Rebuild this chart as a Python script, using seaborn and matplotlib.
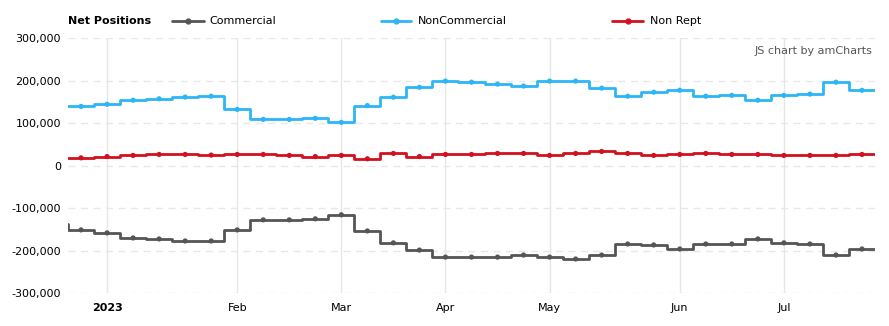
import numpy as np
import pandas as pd
import matplotlib
matplotlib.use("Agg")
import matplotlib.pyplot as plt
from matplotlib.lines import Line2D
import seaborn as sns

# ---- data (weekly, Dec 20 2022 .. Jul 25 2023; Dec 20 is only partly visible) ----
dates = ["2022-12-20", "2022-12-27", "2023-01-03", "2023-01-10", "2023-01-17", "2023-01-24",
         "2023-01-31", "2023-02-07", "2023-02-14", "2023-02-21", "2023-02-28",
         "2023-03-07", "2023-03-14", "2023-03-21", "2023-03-28", "2023-04-04",
         "2023-04-11", "2023-04-18", "2023-04-25", "2023-05-02", "2023-05-09",
         "2023-05-16", "2023-05-23", "2023-05-30", "2023-06-06", "2023-06-13",
         "2023-06-20", "2023-06-27", "2023-07-04", "2023-07-11", "2023-07-18",
         "2023-07-25"]
commercial = [-138000, -151500, -158600, -170500, -172800, -177600, -177600, -151500,
              -127900, -127900, -125500, -116000, -154000, -182000, -199000, -215500,
              -215500, -215500, -210700, -215500, -220000, -210700, -184700, -187000,
              -196500, -184700, -184700, -172800, -182000, -184700, -210700, -196500]
noncommercial = [139000, 139000, 144000, 153600, 157000, 161000, 163000, 132000,
                 108500, 108500, 111000, 101500, 141000, 160700, 184000, 198600,
                 196000, 191500, 187000, 198600, 198600, 182000, 163000, 172500,
                 177000, 163000, 165000, 153600, 165000, 168000, 196000, 177000]
nonrept = [18000, 18000, 21000, 23700, 26000, 26000, 24500, 26000, 26000, 23700,
           21000, 23700, 15800, 28400, 21000, 26000, 26000, 28400, 28400, 23700,
           28400, 33000, 28400, 23700, 26000, 28400, 26000, 26000, 23700, 23700,
           23700, 26000]
series_names = ["Commercial", "NonCommercial", "Non Rept"]
colors = ["#555555", "#2db6f5", "#d2101e"]
y_ticks = [-300000, -200000, -100000, 0, 100000, 200000, 300000]

# ---- frames ----
dt = pd.to_datetime(dates)
idx = np.arange(len(dates)) - 1          # Dec 20 -> -1, Dec 27 -> 0, ...
rows, step_rows = [], []
for name, vals in zip(series_names, [commercial, noncommercial, nonrept]):
    for i, d, v in zip(idx, dt, vals):
        rows.append({"idx": i, "date": d, "series": name, "value": v})
        # each weekly value spans its whole category cell (amCharts step line)
        step_rows.append({"x": i - 0.5, "series": name, "value": v})
        step_rows.append({"x": i + 0.5, "series": name, "value": v})
df = pd.DataFrame(rows)
steps = pd.DataFrame(step_rows)
pal = dict(zip(series_names, colors))

# ---- figure ----
sns.set_theme(style="white")
plt.rcParams["font.family"] = ["DejaVu Sans"]
fig = plt.figure(figsize=(8.89, 3.26), dpi=100)
ax = fig.add_axes([68 / 889, 1 - 293 / 326, (875 - 68) / 889, (293 - 38) / 326])

sns.lineplot(data=steps, x="x", y="value", hue="series", palette=pal, sort=False,
             estimator=None, linewidth=2.0, ax=ax, legend=False,
             hue_order=series_names, zorder=3)
sns.scatterplot(data=df[df["idx"] >= 0], x="idx", y="value", hue="series",
                palette=pal, s=14, linewidth=0, ax=ax, legend=False,
                hue_order=series_names, zorder=4)

n = int(df["idx"].max())
ax.set_xlim(-0.5, n + 0.5)
ax.set_ylim(-300000, 300000)

# month gridlines at first weekly point of each month
vis = df[(df["series"] == series_names[0]) & (df["idx"] >= 0)]
xt, xl = [], []
prev = None
for i, d in zip(vis["idx"], vis["date"]):
    key = (d.year, d.month)
    if prev is not None and key != prev:
        xt.append(i)
        xl.append(str(d.year) if d.month == 1 else d.strftime("%b"))
    prev = key
ax.set_xticks(xt)
ax.set_xticklabels(xl)
for t in ax.get_xticklabels():
    if t.get_text().isdigit():
        t.set_fontweight("bold")
for x in xt:
    ax.axvline(x, color="#e6e6e6", lw=1.0, zorder=1)

ax.set_yticks(y_ticks)
ax.set_yticklabels([f"{v:,}" for v in y_ticks])
for y in y_ticks:
    ax.axhline(y, color="#e8e8e8", lw=1.0, ls=(0, (5, 4)), zorder=1)

ax.tick_params(axis="both", length=0, labelsize=8, colors="#000000", pad=5)
ax.tick_params(axis="x", pad=7)
for s in ax.spines.values():
    s.set_visible(False)
ax.set_xlabel("")
ax.set_ylabel("")
ax.grid(False)

# ---- legend (top) ----
H, W = 326, 889
ly = 1 - 21 / H
fig.text(68 / W, ly, "Net Positions", fontsize=8, fontweight="bold",
         va="center", ha="left", color="#000000")
for name, col, x0, x1, tx in [(series_names[0], colors[0], 172, 204, 209),
                              (series_names[1], colors[1], 381, 411, 418),
                              (series_names[2], colors[2], 612, 643, 650)]:
    fig.add_artist(Line2D([x0 / W, x1 / W], [ly, ly], color=col, lw=2.0))
    fig.add_artist(Line2D([(x0 + x1) / 2 / W], [ly], color=col, marker="o",
                          markersize=3.5, lw=0))
    fig.text(tx / W, ly, name, fontsize=8, va="center", ha="left", color="#000000")

fig.text(872 / W, 1 - 51 / H, "JS chart by amCharts", fontsize=8,
         ha="right", va="center", color="#555555")

fig.savefig("out.png", dpi=100)
